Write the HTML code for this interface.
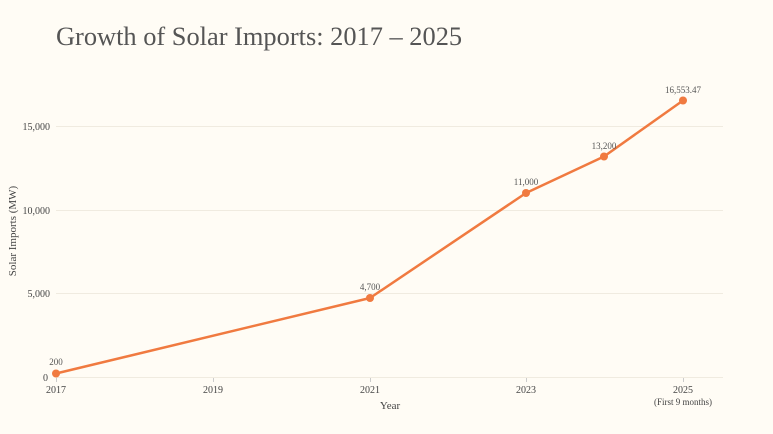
<!DOCTYPE html>
<html><head><style>
html,body{margin:0;padding:0;background:#fffcf5;}
svg{display:block;font-family:"Liberation Serif",serif;}
</style></head><body>
<svg width="773" height="434" viewBox="0 0 773 434">
<rect width="773" height="434" fill="#fffcf5"/>
<text x="56" y="45" font-size="26.4" fill="#555">Growth of Solar Imports: 2017 – 2025</text>
<g stroke="#f0ebe0" stroke-width="1">
<line x1="56" y1="126.5" x2="723" y2="126.5"/>
<line x1="56" y1="210.5" x2="723" y2="210.5"/>
<line x1="56" y1="293.5" x2="723" y2="293.5"/>
<line x1="56" y1="377.5" x2="723" y2="377.5"/>
</g>
<g stroke="#ccc" stroke-width="1">
<line x1="56.5" y1="378" x2="56.5" y2="382"/>
<line x1="213.5" y1="378" x2="213.5" y2="382"/>
<line x1="370.5" y1="378" x2="370.5" y2="382"/>
<line x1="526.5" y1="378" x2="526.5" y2="382"/>
<line x1="683.5" y1="378" x2="683.5" y2="382"/>
</g>
<g font-size="10" fill="#444" text-anchor="end">
<text x="50" y="130">15,000</text>
<text x="50" y="214">10,000</text>
<text x="50" y="297">5,000</text>
<text x="48" y="381">0</text>
</g>
<g font-size="10" fill="#444" text-anchor="middle">
<text x="56" y="393">2017</text>
<text x="213" y="393">2019</text>
<text x="370" y="393">2021</text>
<text x="526" y="393">2023</text>
<text x="683" y="393">2025</text>
<text x="683" y="405" font-size="9">(First 9 months)</text>
<text x="390" y="409" font-size="11">Year</text>
</g>
<text transform="translate(16,231) rotate(-90)" font-size="11" fill="#444" text-anchor="middle">Solar Imports (MW)</text>
<polyline points="56,373.5 370,298 526,193 604,156.5 683,100.5" fill="none" stroke="#f07a40" stroke-width="2.5" stroke-linejoin="round"/>
<g fill="#f07a40">
<circle cx="56" cy="373.5" r="4"/>
<circle cx="370" cy="298" r="4"/>
<circle cx="526" cy="193" r="4"/>
<circle cx="604" cy="156.5" r="4"/>
<circle cx="683" cy="100.5" r="4"/>
</g>
<g font-size="9" fill="#555" text-anchor="middle">
<text x="56" y="365">200</text>
<text x="370" y="290">4,700</text>
<text x="526" y="185">11,000</text>
<text x="604" y="149">13,200</text>
<text x="683" y="93">16,553.47</text>
</g>
</svg>
</body></html>
